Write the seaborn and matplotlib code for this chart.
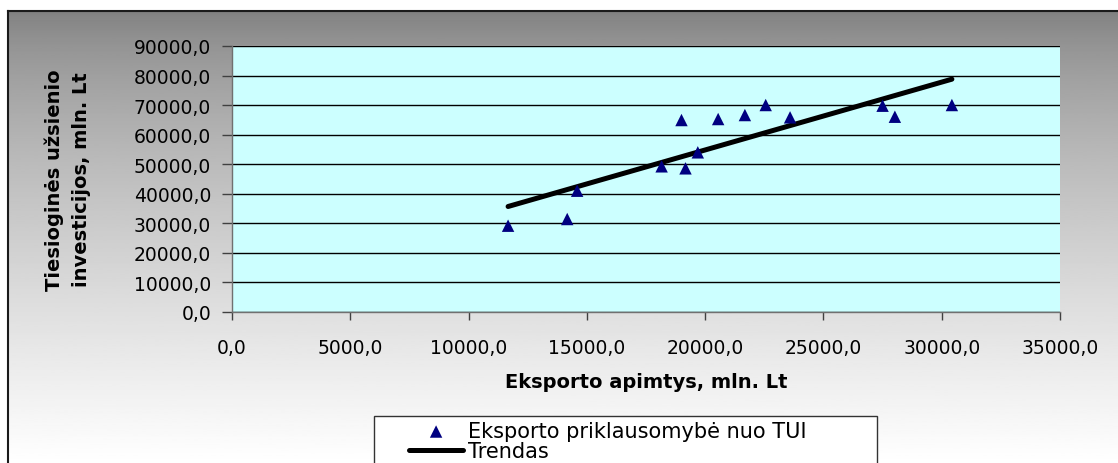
import numpy as np
import pandas as pd
import seaborn as sns
import matplotlib.pyplot as plt
from matplotlib.patches import Rectangle

# values
eksportas = [11670, 14170, 14590, 18160, 19000, 19170, 19690, 20550,
             21680, 22560, 23590, 27500, 28020, 30430]
tui = [29200, 31460, 41040, 49290, 64950, 48610, 54020, 65290,
       66640, 70030, 65860, 69800, 66070, 70030]
x_ticks = list(range(0, 35001, 5000))
y_ticks = list(range(0, 90001, 10000))
x_label = 'Eksporto apimtys, mln. Lt'
y_label = 'Tiesioginės užsienio\ninvesticijos, mln. Lt'
series_label = 'Eksporto priklausomybė nuo TUI'
trend_label = 'Trendas'

df = pd.DataFrame({'eksportas': eksportas, 'tui': tui})

sns.set_style('white')
plt.rcParams['font.family'] = ['DejaVu Sans']
plt.rcParams['text.color'] = 'black'
plt.rcParams['axes.labelcolor'] = 'black'

W, H = 1118, 464
fig = plt.figure(figsize=(W / 100, H / 100), dpi=100)
fig.patch.set_facecolor('white')

# gray-to-white gradient chart area with frame
bg = fig.add_axes([8 / W, 0, 1 - 8 / W, (H - 12) / H], zorder=0)
t = np.linspace(0, 1, 256) ** 0.7
grad = (127 + 128 * t)[:, None] / 255
bg.imshow(grad, aspect='auto', cmap='gray', vmin=0, vmax=1, extent=[0, 1, 0, 1])
bg.set_xticks([])
bg.set_yticks([])
for side in ['right', 'bottom']:
    bg.spines[side].set_visible(False)
for side in ['left', 'top']:
    bg.spines[side].set_color('#1a1a1a')
    bg.spines[side].set_linewidth(1.5)

################################ plot area ################################
ax = fig.add_axes([232 / W, (H - 313) / H, 828 / W, 266 / H], zorder=1)
ax.set_facecolor('#CCFFFF')

sns.scatterplot(data=df, x='eksportas', y='tui', marker='^', color='#000080',
                s=80, edgecolor='none', label=series_label, ax=ax, zorder=3)
sns.regplot(data=df, x='eksportas', y='tui', scatter=False, ci=None,
            color='black', line_kws={'lw': 3.6, 'solid_capstyle': 'round'},
            label=trend_label, ax=ax)

ax.set_xlim(0, 35000)
ax.set_ylim(0, 90000)
ax.set_xticks(x_ticks)
ax.set_yticks(y_ticks)
ax.set_xticklabels([f'{v:.1f}'.replace('.', ',') for v in x_ticks])
ax.set_yticklabels([f'{v:.1f}'.replace('.', ',') for v in y_ticks])
ax.tick_params(axis='both', labelsize=13.5, labelcolor='black', direction='out')
ax.tick_params(axis='x', bottom=True, length=6, width=1, color='#404040', pad=13)
ax.tick_params(axis='y', left=True, length=7, width=1, color='#404040', pad=8)

ax.yaxis.grid(True, color='black', lw=1)
ax.xaxis.grid(False)
ax.set_axisbelow(True)
for side in ['top', 'right']:
    ax.spines[side].set_visible(False)
for side in ['left', 'bottom']:
    ax.spines[side].set_color('#707070')
    ax.spines[side].set_linewidth(1)

ax.set_xlabel(x_label, fontsize=14, fontweight='bold', va='center')
ax.xaxis.set_label_coords(0.5, (313 - 383) / 266)
ax.set_ylabel(y_label, fontsize=14, fontweight='bold', va='center',
              linespacing=1.5)
ax.yaxis.set_label_coords((68 - 232) / 828, 0.5)

# legend box (runs past the bottom edge, as in the original)
fig.patches.append(Rectangle((374 / W, -0.1), 503 / W, (H - 417) / H + 0.1,
                             transform=fig.transFigure, facecolor='white',
                             edgecolor='#333333', lw=1, zorder=0.5))
handles, labels = ax.get_legend_handles_labels()
if ax.get_legend() is not None:
    ax.get_legend().remove()
leg = fig.legend(handles, labels, bbox_to_anchor=(409 / W, (H - 422) / H),
                 bbox_transform=fig.transFigure, loc='upper left',
                 fontsize=15, frameon=False, borderaxespad=0, borderpad=0,
                 labelspacing=0, handlelength=2.6, handletextpad=0.25)
leg.set_zorder(5)

plt.savefig('out.png', dpi=100)
